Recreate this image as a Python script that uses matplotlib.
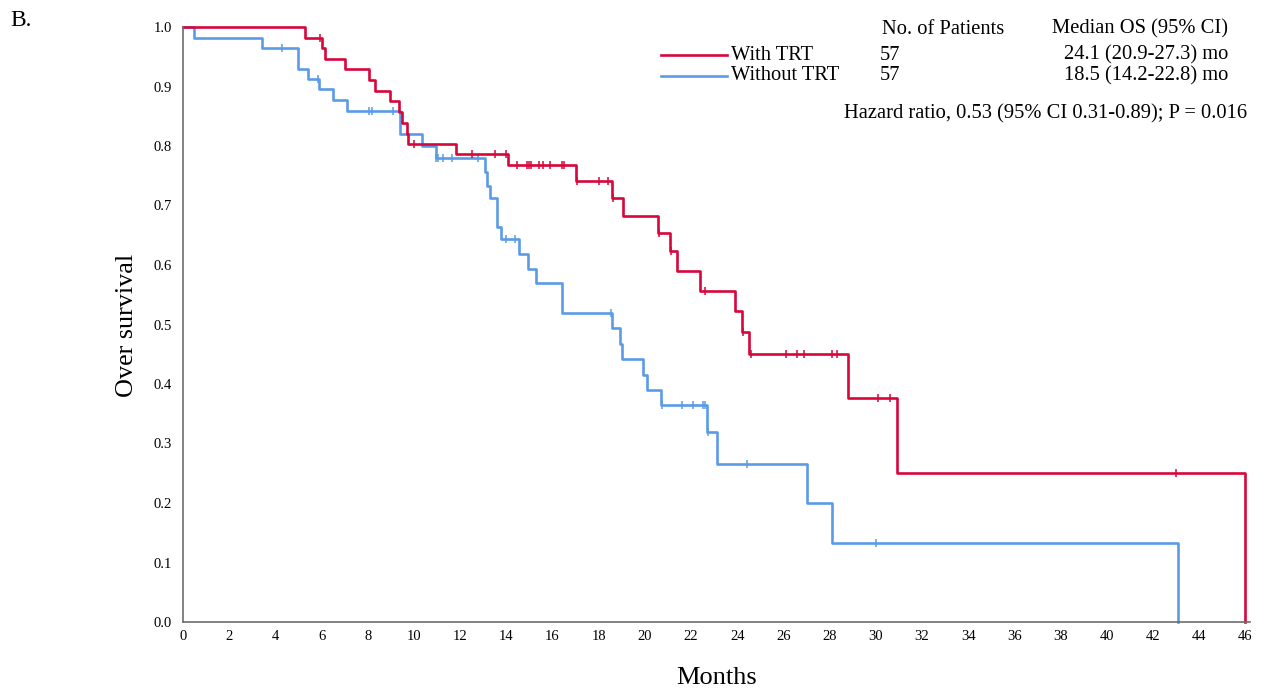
import numpy as np
import matplotlib
matplotlib.use("Agg")
import matplotlib.pyplot as plt
from matplotlib.lines import Line2D

plt.rcParams["font.family"] = ["Liberation Serif", "DejaVu Serif"]

# Kaplan-Meier steps: event time (months) and survival after it
TRT_TIMES = [5.3, 6.0, 6.15, 7.0, 8.05, 8.3, 8.96, 9.35, 9.5, 9.7, 9.75, 11.8, 14.07,
             17.0, 18.57, 19.05, 20.55, 21.1, 21.4, 22.4, 23.9, 24.2, 24.5, 28.8, 30.9, 46.0]
TRT_SURV = [0.982, 0.964, 0.946, 0.929, 0.911, 0.893, 0.875, 0.857, 0.839, 0.821, 0.803,
            0.786, 0.768, 0.741, 0.713, 0.683, 0.654, 0.623, 0.590, 0.557, 0.522, 0.487,
            0.451, 0.376, 0.250, 0.0]
TRT_CENSOR = [5.93, 10.0, 12.5, 13.5, 14.0, 14.45, 14.9, 14.97, 15.05, 15.4, 15.6, 15.9,
              16.4, 16.5, 17.05, 18.0, 18.4, 18.6, 20.6, 21.15, 22.6, 24.25, 24.6, 26.1,
              26.6, 26.9, 28.1, 28.3, 30.1, 30.6, 43.0]

NOTRT_TIMES = [0.48, 3.4, 5.0, 5.4, 5.9, 6.5, 7.1, 9.4, 10.35, 10.95, 13.07, 13.15, 13.3,
               13.6, 13.77, 14.55, 14.95, 15.3, 16.4, 18.57, 18.9, 19.0, 19.9, 20.1, 20.7,
               22.7, 23.1, 27.0, 28.1, 43.1]
NOTRT_SURV = [0.982, 0.965, 0.930, 0.912, 0.895, 0.877, 0.859, 0.820, 0.800, 0.780, 0.756,
              0.733, 0.712, 0.664, 0.643, 0.618, 0.593, 0.569, 0.519, 0.494, 0.467, 0.442,
              0.415, 0.390, 0.364, 0.319, 0.266, 0.200, 0.133, 0.0]
NOTRT_CENSOR = [4.3, 5.85, 8.05, 8.2, 9.1, 10.97, 11.05, 11.27, 11.66, 12.76, 13.97, 14.37,
                18.52, 20.75, 21.6, 22.1, 22.5, 22.62, 22.75, 24.4, 30.0]

RED = "#d7063b"
BLUE = "#5b9be6"
LW = 1.9


def km_curve(ax, times, surv, censor, color):
    t = np.concatenate([[0.0], times])
    s = np.concatenate([[1.0], surv])
    ax.step(t, s, where="post", color=color, lw=LW, clip_on=False)
    c = np.asarray(censor)
    idx = np.searchsorted(t, c, side="right") - 1
    ax.plot(c, s[idx], ls="none", marker="|", ms=6, mew=1.1, color=color, clip_on=False)


fig = plt.figure(figsize=(12.66, 6.92), dpi=100)
ax = fig.add_axes([183 / 1266, 1 - 622 / 692, (1250 - 183) / 1266, (622 - 27) / 692])

km_curve(ax, NOTRT_TIMES, NOTRT_SURV, NOTRT_CENSOR, BLUE)
km_curve(ax, TRT_TIMES, TRT_SURV, TRT_CENSOR, RED)

ax.set_xlim(0, 46.2)
ax.set_ylim(0, 1.0)
ax.set_xticks(np.arange(0, 47, 2))
ax.set_yticks(np.round(np.arange(0, 1.01, 0.1), 1))
ax.set_yticklabels([f"{v:.1f}" for v in np.arange(0, 1.01, 0.1)])
ax.tick_params(length=0, labelsize=10.5)
ax.tick_params(axis="y", pad=8)
ax.tick_params(axis="x", pad=6)
for side in ("top", "right"):
    ax.spines[side].set_visible(False)
for side in ("left", "bottom"):
    ax.spines[side].set_color("#6d6d6d")
    ax.spines[side].set_linewidth(1.2)

fig.text(127 / 1266, 1 - 325 / 692, "Over survival", rotation=90, ha="center", va="center", fontsize=18.8)
fig.text(717 / 1266, 1 - 678 / 692, "Months", ha="center", va="center", fontsize=19)
fig.text(10 / 1266, 1 - 20 / 692, "B.", ha="left", va="center", fontsize=17)

# legend / summary table
fs = 14.8
fig.text(943 / 1266, 1 - 29 / 692, "No. of Patients", ha="center", va="center", fontsize=fs)
fig.text(1228 / 1266, 1 - 29 / 692, "Median OS (95% CI)", ha="right", va="center", fontsize=fs)
rows = [("With TRT", RED, "57", "24.1 (20.9-27.3) mo", 55),
        ("Without TRT", BLUE, "57", "18.5 (14.2-22.8) mo", 76)]
for label, color, n, median, ypx in rows:
    yf = 1 - ypx / 692
    fig.add_artist(Line2D([661 / 1266, 727 / 1266], [yf, yf], color=color, lw=LW))
    fig.text(731 / 1266, yf, label, ha="left", va="center", fontsize=fs)
    fig.text(890 / 1266, yf, n, ha="center", va="center", fontsize=fs)
    fig.text(1228 / 1266, yf, median, ha="right", va="center", fontsize=fs)
fig.text(1247 / 1266, 1 - 114 / 692, "Hazard ratio, 0.53 (95% CI 0.31-0.89); P = 0.016",
         ha="right", va="center", fontsize=fs)

fig.savefig("out.png", dpi=100)
